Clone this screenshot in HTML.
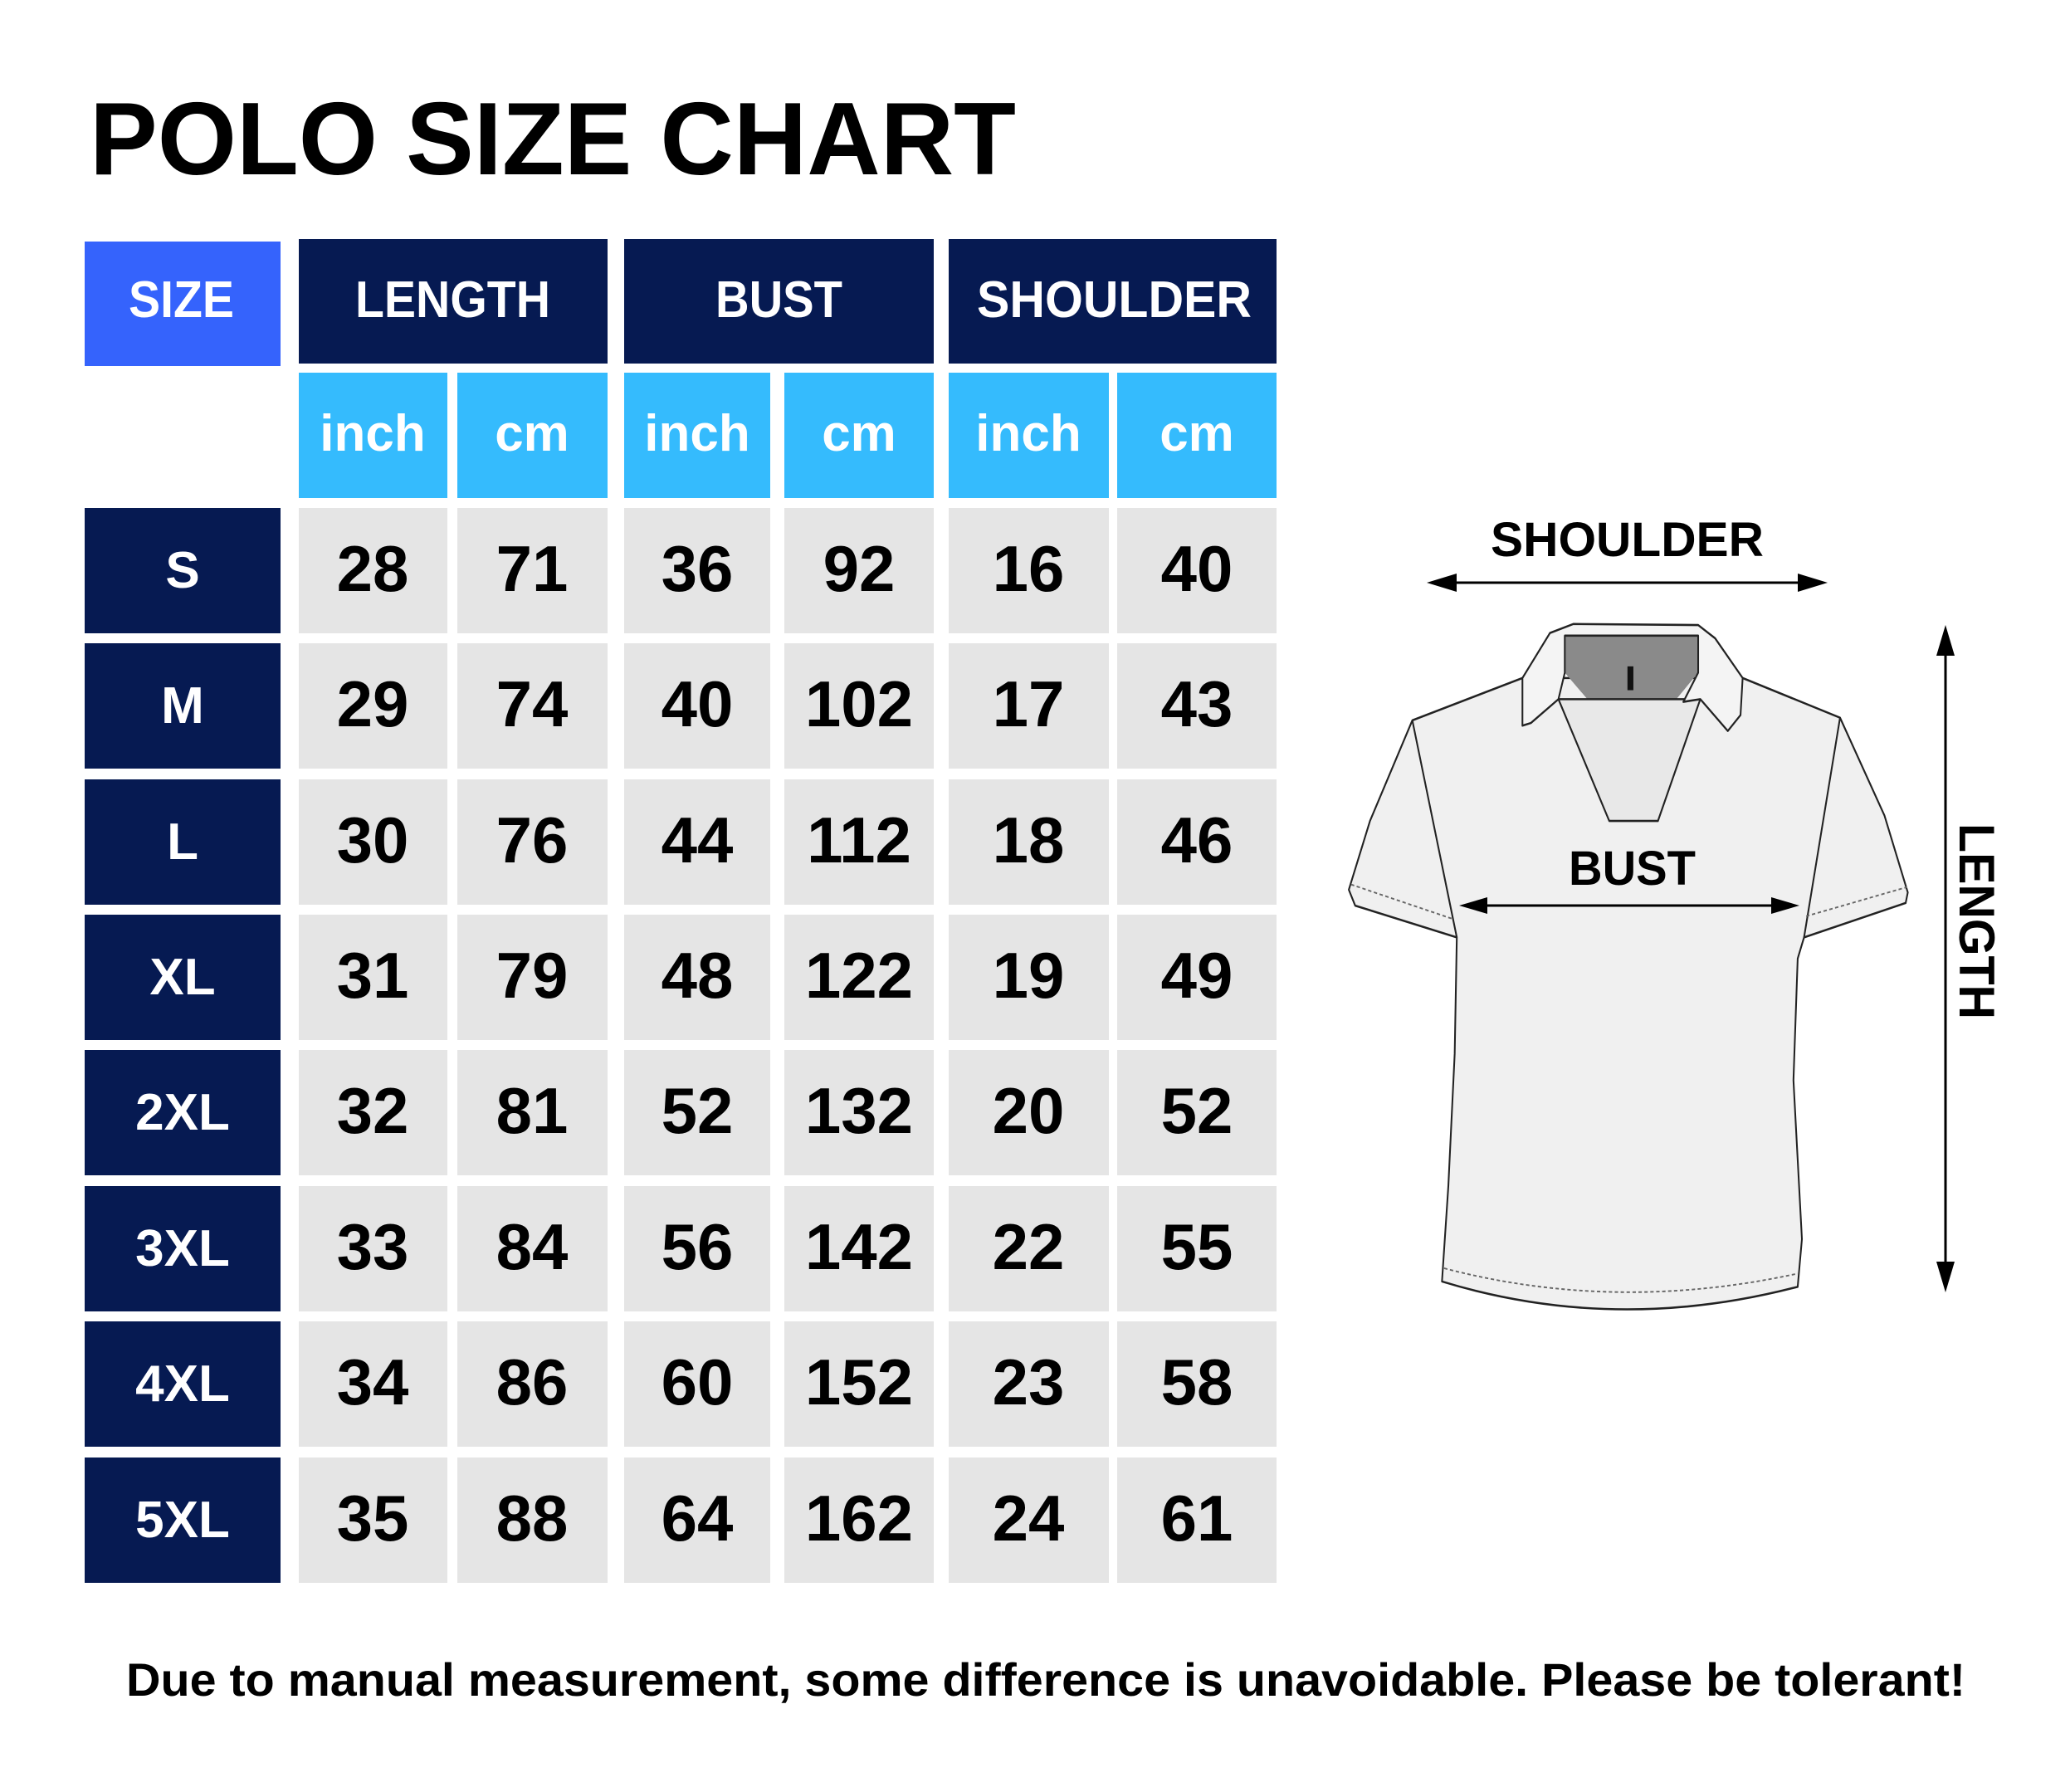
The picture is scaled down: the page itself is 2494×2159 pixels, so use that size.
<!DOCTYPE html>
<html><head><meta charset="utf-8"><style>
html,body{margin:0;padding:0;background:#fff;}
svg{display:block;}
text{font-family:"Liberation Sans",sans-serif;font-weight:bold;}
</style></head><body>
<svg width="2494" height="2159" viewBox="0 0 2494 2159" xmlns="http://www.w3.org/2000/svg">
<rect width="2494" height="2159" fill="#fff"/>
<text x="108" y="210" font-size="124" textLength="1116" lengthAdjust="spacingAndGlyphs" fill="#000">POLO SIZE CHART</text>

<rect x="102" y="291" width="236" height="150" fill="#3563fc"/>
<rect x="360" y="288" width="372" height="150" fill="#061a52"/>
<rect x="752" y="288" width="373" height="150" fill="#061a52"/>
<rect x="1143" y="288" width="395" height="150" fill="#061a52"/>
<g fill="#fff" font-size="62">
<text x="155" y="382" textLength="127" lengthAdjust="spacingAndGlyphs">SIZE</text>
<text x="428" y="382" textLength="235" lengthAdjust="spacingAndGlyphs">LENGTH</text>
<text x="862" y="382" textLength="153" lengthAdjust="spacingAndGlyphs">BUST</text>
<text x="1177" y="382" textLength="331" lengthAdjust="spacingAndGlyphs">SHOULDER</text>
</g>
<g fill="#35bbfd">
<rect x="360" y="449" width="179" height="151"/>
<rect x="551" y="449" width="181" height="151"/>
<rect x="752" y="449" width="176" height="151"/>
<rect x="945" y="449" width="180" height="151"/>
<rect x="1143" y="449" width="193" height="151"/>
<rect x="1346" y="449" width="192" height="151"/>
</g>
<g fill="#fff" font-size="62" text-anchor="middle">
<text x="449" y="543">inch</text>
<text x="641" y="543">cm</text>
<text x="840" y="543">inch</text>
<text x="1035" y="543">cm</text>
<text x="1239" y="543">inch</text>
<text x="1442" y="543">cm</text>
</g>

<g font-size="78" text-anchor="middle">
<g transform="translate(0,612)">
<rect x="102" width="236" height="151" fill="#061a52"/><rect x="360" width="179" height="151" fill="#e5e5e5"/><rect x="551" width="181" height="151" fill="#e5e5e5"/><rect x="752" width="176" height="151" fill="#e5e5e5"/><rect x="945" width="180" height="151" fill="#e5e5e5"/><rect x="1143" width="193" height="151" fill="#e5e5e5"/><rect x="1346" width="192" height="151" fill="#e5e5e5"/>
<text x="220" y="96" fill="#fff" font-size="62">S</text><text x="449" y="100">28</text><text x="641" y="100">71</text><text x="840" y="100">36</text><text x="1035" y="100">92</text><text x="1239" y="100">16</text><text x="1442" y="100">40</text></g>
<g transform="translate(0,775)">
<rect x="102" width="236" height="151" fill="#061a52"/><rect x="360" width="179" height="151" fill="#e5e5e5"/><rect x="551" width="181" height="151" fill="#e5e5e5"/><rect x="752" width="176" height="151" fill="#e5e5e5"/><rect x="945" width="180" height="151" fill="#e5e5e5"/><rect x="1143" width="193" height="151" fill="#e5e5e5"/><rect x="1346" width="192" height="151" fill="#e5e5e5"/>
<text x="220" y="96" fill="#fff" font-size="62">M</text><text x="449" y="100">29</text><text x="641" y="100">74</text><text x="840" y="100">40</text><text x="1035" y="100">102</text><text x="1239" y="100">17</text><text x="1442" y="100">43</text></g>
<g transform="translate(0,939)">
<rect x="102" width="236" height="151" fill="#061a52"/><rect x="360" width="179" height="151" fill="#e5e5e5"/><rect x="551" width="181" height="151" fill="#e5e5e5"/><rect x="752" width="176" height="151" fill="#e5e5e5"/><rect x="945" width="180" height="151" fill="#e5e5e5"/><rect x="1143" width="193" height="151" fill="#e5e5e5"/><rect x="1346" width="192" height="151" fill="#e5e5e5"/>
<text x="220" y="96" fill="#fff" font-size="62">L</text><text x="449" y="100">30</text><text x="641" y="100">76</text><text x="840" y="100">44</text><text x="1035" y="100">112</text><text x="1239" y="100">18</text><text x="1442" y="100">46</text></g>
<g transform="translate(0,1102)">
<rect x="102" width="236" height="151" fill="#061a52"/><rect x="360" width="179" height="151" fill="#e5e5e5"/><rect x="551" width="181" height="151" fill="#e5e5e5"/><rect x="752" width="176" height="151" fill="#e5e5e5"/><rect x="945" width="180" height="151" fill="#e5e5e5"/><rect x="1143" width="193" height="151" fill="#e5e5e5"/><rect x="1346" width="192" height="151" fill="#e5e5e5"/>
<text x="220" y="96" fill="#fff" font-size="62">XL</text><text x="449" y="100">31</text><text x="641" y="100">79</text><text x="840" y="100">48</text><text x="1035" y="100">122</text><text x="1239" y="100">19</text><text x="1442" y="100">49</text></g>
<g transform="translate(0,1265)">
<rect x="102" width="236" height="151" fill="#061a52"/><rect x="360" width="179" height="151" fill="#e5e5e5"/><rect x="551" width="181" height="151" fill="#e5e5e5"/><rect x="752" width="176" height="151" fill="#e5e5e5"/><rect x="945" width="180" height="151" fill="#e5e5e5"/><rect x="1143" width="193" height="151" fill="#e5e5e5"/><rect x="1346" width="192" height="151" fill="#e5e5e5"/>
<text x="220" y="96" fill="#fff" font-size="62">2XL</text><text x="449" y="100">32</text><text x="641" y="100">81</text><text x="840" y="100">52</text><text x="1035" y="100">132</text><text x="1239" y="100">20</text><text x="1442" y="100">52</text></g>
<g transform="translate(0,1429)">
<rect x="102" width="236" height="151" fill="#061a52"/><rect x="360" width="179" height="151" fill="#e5e5e5"/><rect x="551" width="181" height="151" fill="#e5e5e5"/><rect x="752" width="176" height="151" fill="#e5e5e5"/><rect x="945" width="180" height="151" fill="#e5e5e5"/><rect x="1143" width="193" height="151" fill="#e5e5e5"/><rect x="1346" width="192" height="151" fill="#e5e5e5"/>
<text x="220" y="96" fill="#fff" font-size="62">3XL</text><text x="449" y="100">33</text><text x="641" y="100">84</text><text x="840" y="100">56</text><text x="1035" y="100">142</text><text x="1239" y="100">22</text><text x="1442" y="100">55</text></g>
<g transform="translate(0,1592)">
<rect x="102" width="236" height="151" fill="#061a52"/><rect x="360" width="179" height="151" fill="#e5e5e5"/><rect x="551" width="181" height="151" fill="#e5e5e5"/><rect x="752" width="176" height="151" fill="#e5e5e5"/><rect x="945" width="180" height="151" fill="#e5e5e5"/><rect x="1143" width="193" height="151" fill="#e5e5e5"/><rect x="1346" width="192" height="151" fill="#e5e5e5"/>
<text x="220" y="96" fill="#fff" font-size="62">4XL</text><text x="449" y="100">34</text><text x="641" y="100">86</text><text x="840" y="100">60</text><text x="1035" y="100">152</text><text x="1239" y="100">23</text><text x="1442" y="100">58</text></g>
<g transform="translate(0,1756)">
<rect x="102" width="236" height="151" fill="#061a52"/><rect x="360" width="179" height="151" fill="#e5e5e5"/><rect x="551" width="181" height="151" fill="#e5e5e5"/><rect x="752" width="176" height="151" fill="#e5e5e5"/><rect x="945" width="180" height="151" fill="#e5e5e5"/><rect x="1143" width="193" height="151" fill="#e5e5e5"/><rect x="1346" width="192" height="151" fill="#e5e5e5"/>
<text x="220" y="96" fill="#fff" font-size="62">5XL</text><text x="449" y="100">35</text><text x="641" y="100">88</text><text x="840" y="100">64</text><text x="1035" y="100">162</text><text x="1239" y="100">24</text><text x="1442" y="100">61</text></g>
</g>

<g transform="translate(1620,600) scale(0.5102,0.6378)" stroke="#222" stroke-width="4" stroke-linejoin="round">
<path d="M160,420 L420,340 L940,340 L1170,415 L1275,600 L1330,745 L1325,765 L1085,830 L1070,870 L1060,1100 L1080,1400 L1070,1490 Q640,1580 230,1480 L245,1300 L260,1050 L265,830 L25,770 L10,740 L60,610 Z" fill="#f0f0f0"/>
<path d="M160,420 L265,830 M1170,415 L1085,830" fill="none"/>
<path d="M520,260 L835,260 L835,330 L680,480 L520,330 Z" fill="#8a8a8a" stroke="none"/>
<path d="M505,380 L840,380 L740,610 L625,610 Z" fill="#e8e8e8"/>
<path d="M420,340 L485,255 L540,238 L835,240 L875,265 L940,340 L935,410 L905,440 L840,380 L800,385 L835,330 L835,260 L520,260 L520,330 L505,380 L440,425 L420,430 Z" fill="#f4f4f4"/>
<rect x="668" y="318" width="14" height="45" fill="#111" stroke="none"/>
<path d="M15,730 L255,795 M1090,790 L1328,735 M235,1455 Q640,1540 1070,1465" fill="none" stroke="#666" stroke-width="3" stroke-dasharray="8 6"/>
</g>

<g fill="#000">
<text x="1796" y="670" font-size="58" textLength="329" lengthAdjust="spacingAndGlyphs">SHOULDER</text>
<line x1="1735" y1="702" x2="2186" y2="702" stroke="#000" stroke-width="3"/>
<polygon points="1719,702 1755,691 1755,713"/>
<polygon points="2202,702 2166,691 2166,713"/>
<text x="1890" y="1066" font-size="58" textLength="153" lengthAdjust="spacingAndGlyphs">BUST</text>
<line x1="1772" y1="1091" x2="2154" y2="1091" stroke="#000" stroke-width="3"/>
<polygon points="1758,1091 1792,1081 1792,1101"/>
<polygon points="2168,1091 2134,1081 2134,1101"/>
<line x1="2344" y1="768" x2="2344" y2="1542" stroke="#000" stroke-width="3"/>
<polygon points="2344,753 2333,790 2355,790"/>
<polygon points="2344,1557 2333,1520 2355,1520"/>
<text transform="translate(2361,992) rotate(90)" font-size="60" textLength="236" lengthAdjust="spacingAndGlyphs">LENGTH</text>
<text x="152" y="2043" font-size="56" textLength="2216" lengthAdjust="spacingAndGlyphs">Due to manual measurement, some difference is unavoidable. Please be tolerant!</text>
</g>
</svg>
</body></html>
